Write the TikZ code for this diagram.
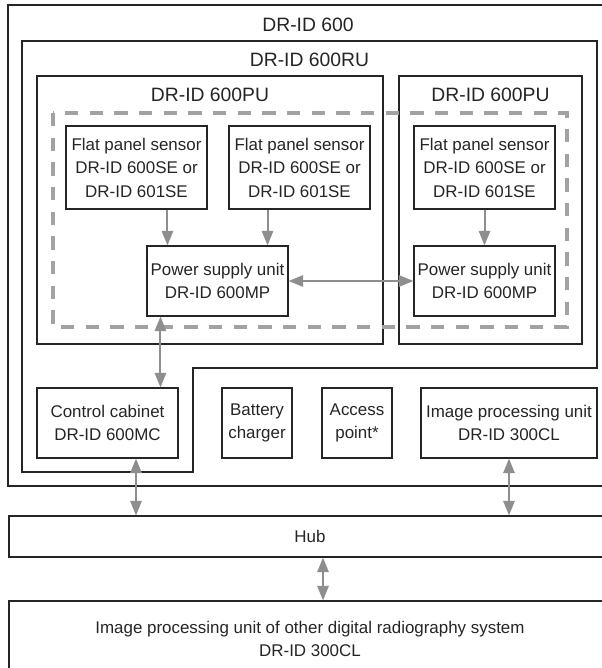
\documentclass[tikz,border=0pt]{standalone}
\usepackage{fontspec}
\setmainfont{Liberation Sans}
\usepackage{tikz}
\usepackage{xcolor}
\usetikzlibrary{arrows.meta,positioning,calc}
\definecolor{Ink}{HTML}{262425}
\definecolor{Link}{HTML}{8E8E8E}
\definecolor{Dash}{HTML}{A2A2A2}

\begin{document}
\begin{tikzpicture}[x=0.75pt,y=-0.75pt,
  unitbox/.style={draw=Ink,line width=0.8pt,align=center,inner sep=0pt,text=Ink,font=\fontsize{12.7}{17.6}\selectfont},
  sensorbox/.style={unitbox,minimum width=105.75pt,minimum height=62.25pt},
  psubox/.style={unitbox,minimum width=105.75pt,minimum height=52.5pt},
  smallbox/.style={unitbox,minimum width=52.5pt,minimum height=52.5pt},
  widebox/.style={unitbox,minimum width=451.5pt},
  frame/.style={draw=Ink,line width=0.8pt},
  outerframe/.style={draw=Ink,line width=1.8pt},
  title/.style={anchor=base,text=Ink,font=\fontsize{14.5}{17}\selectfont},
  group/.style={draw=Dash,line width=3.3pt,dash pattern=on 10pt off 8.5pt},
  link/.style={-{Triangle[length=11pt,width=8.5pt]},line width=1.5pt,draw=Link},
  bilink/.style={{Triangle[length=11pt,width=8.5pt]}-{Triangle[length=11pt,width=8.5pt]},line width=1.5pt,draw=Link}
]
\useasboundingbox (0,0) rectangle (602,668);
\clip (0,0) rectangle (602,668);

% frames
\draw[outerframe] (8,5) rectangle (608,486);
\draw[frame] (22,41) -- (597,41) -- (597,368) -- (193,368) -- (193,472) -- (22,472) -- cycle;
\draw[frame] (37,76) rectangle (383,344);
\draw[frame] (399,76) rectangle (582,344);
\draw[group] (53,113) rectangle (567,327);

\node[title] (tsys) at (308,31) {DR-ID 600};
\node[title] (tru) at (309.5,66.5) {DR-ID 600RU};
\node[title] (tpuA) at (210,101.5) {DR-ID 600PU};
\node[title] (tpuB) at (490.5,101.5) {DR-ID 600PU};

% units
\node[sensorbox] (seA) at (136.5,167.5) {Flat panel sensor\\DR-ID 600SE or\\DR-ID 601SE};
\node[sensorbox] (seB) at (299.5,167.5) {Flat panel sensor\\DR-ID 600SE or\\DR-ID 601SE};
\node[sensorbox] (seC) at (484.5,167.5) {Flat panel sensor\\DR-ID 600SE or\\DR-ID 601SE};
\node[psubox] (psuA) at (217.5,281) {Power supply unit\\DR-ID 600MP};
\node[psubox] (psuB) at (484.5,281) {Power supply unit\\DR-ID 600MP};
\node[psubox] (cabinet) at (107.5,423) {Control cabinet\\DR-ID 600MC};
\node[smallbox] (charger) at (257,423) {Battery\\charger};
\node[smallbox] (access) at (357,423) {Access\\point*};
\node[psubox,minimum width=132pt] (ipu) at (509,423) {Image processing unit\\DR-ID 300CL};
\node[widebox,minimum height=30.75pt] (hub) at (310,536.5) {Hub};
\node[widebox,minimum height=57pt] (other) at (310,639) {Image processing unit of other digital radiography system\\DR-ID 300CL};

% connectors
\coordinate (inA) at ($(psuA.north west)+(21,0)$);
\coordinate (inB) at ($(psuA.north east)+(-21,0)$);
\coordinate (outA) at ($(psuA.south west)+(14,0)$);
\coordinate (outC) at ($(cabinet.south)+(28.5,0)$);
\coordinate (outH) at ($(hub.south)+(13,0)$);
\draw[link] (seA.south -| inA) -- (inA);
\draw[link] (seB.south -| inB) -- (inB);
\draw[link] (seC) -- (psuB);
\draw[bilink] (psuA) -- (psuB);
\draw[bilink] (outA) -- (cabinet.north -| outA);
\draw[bilink] (outC) -- (hub.north -| outC);
\draw[bilink] (ipu) -- (hub.north -| ipu);
\draw[bilink] (outH) -- (other.north -| outH);
\end{tikzpicture}
\end{document}
